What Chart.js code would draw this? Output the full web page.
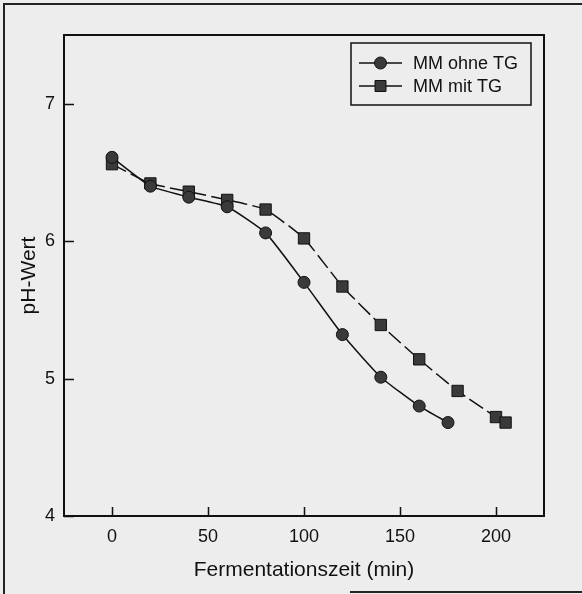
<!DOCTYPE html>
<html>
<head>
<meta charset="utf-8">
<script src="https://cdn.jsdelivr.net/npm/chart.js@4/dist/chart.umd.min.js"></script>
<style>
  html, body { margin: 0; padding: 0; background: #ededed; }
  canvas { display: block; }
</style>
</head>
<body>
<canvas id="phChart" width="582" height="594"></canvas>
<script>
const zeitOhneTG = [0, 20, 40, 60, 80, 100, 120, 140, 160, 175];
const phOhneTG = [6.61, 6.40, 6.32, 6.25, 6.06, 5.70, 5.32, 5.01, 4.80, 4.68];

const zeitMitTG = [0, 20, 40, 60, 80, 100, 120, 140, 160, 180, 200, 205];
const phMitTG = [6.56, 6.42, 6.36, 6.30, 6.23, 6.02, 5.67, 5.39, 5.14, 4.91, 4.72, 4.68];

const xTicks = [0, 50, 100, 150, 200];
const yTicks = [4, 5, 6, 7];

const labels = ['MM ohne TG', 'MM mit TG'];

const FONT = "'Liberation Sans', Arial, Helvetica, sans-serif";
const INK = '#111';

// Rahmen, Achsen mit Innen-Ticks und Legende im Diagramm
const framePlugin = {
  id: 'frame',
  beforeDraw(chart) {
    const ctx = chart.ctx;
    ctx.save();
    ctx.fillStyle = '#ededed';
    ctx.fillRect(0, 0, chart.width, chart.height);
    // Scanrand
    ctx.strokeStyle = '#222';
    ctx.lineWidth = 2;
    ctx.beginPath();
    ctx.moveTo(4, chart.height);
    ctx.lineTo(4, 4);
    ctx.lineTo(chart.width, 4);
    ctx.moveTo(350, 592);
    ctx.lineTo(chart.width, 592);
    ctx.stroke();
    ctx.restore();
  },
  afterDraw(chart) {
    const ctx = chart.ctx;
    const a = chart.chartArea;
    const sx = chart.scales.x;
    const sy = chart.scales.y;
    ctx.save();
    ctx.strokeStyle = INK;
    ctx.lineWidth = 2;
    ctx.strokeRect(a.left, a.top, a.right - a.left, a.bottom - a.top);

    ctx.lineWidth = 1.5;
    ctx.beginPath();
    sx.ticks.forEach(t => {
      const px = Math.round(sx.getPixelForValue(t.value)) + 0.5;
      ctx.moveTo(px, a.bottom);
      ctx.lineTo(px, a.bottom - 9);
    });
    sy.ticks.forEach(t => {
      const py = Math.round(sy.getPixelForValue(t.value)) + 0.5;
      ctx.moveTo(a.left, py);
      ctx.lineTo(a.left + 10, py);
    });
    ctx.stroke();

    // Legende
    const box = { l: 351, t: 43, r: 531, b: 105 };
    ctx.fillStyle = '#ededed';
    ctx.fillRect(box.l, box.t, box.r - box.l, box.b - box.t);
    ctx.lineWidth = 1.5;
    ctx.strokeRect(box.l, box.t, box.r - box.l, box.b - box.t);
    const rows = [63, 86];
    chart.data.datasets.forEach((ds, i) => {
      const y = rows[i];
      ctx.strokeStyle = INK;
      ctx.lineWidth = 1.5;
      ctx.setLineDash([]);
      ctx.beginPath();
      ctx.moveTo(359, y);
      ctx.lineTo(402, y);
      ctx.stroke();
      ctx.fillStyle = ds.pointBackgroundColor;
      ctx.lineWidth = 1;
      ctx.beginPath();
      if (ds.pointStyle === 'rect') {
        ctx.rect(380.5 - 5.5, y - 5.5, 11, 11);
      } else {
        ctx.arc(380.5, y, 6, 0, Math.PI * 2);
      }
      ctx.fill();
      ctx.stroke();
      ctx.fillStyle = INK;
      ctx.font = '18px ' + FONT;
      ctx.textBaseline = 'middle';
      ctx.textAlign = 'left';
      ctx.fillText(ds.label, 413, y + 1);
    });
    ctx.restore();
  }
};

new Chart(document.getElementById('phChart'), {
  type: 'line',
  data: {
    datasets: [
      {
        label: labels[0],
        data: zeitOhneTG.map((t, i) => ({ x: t, y: phOhneTG[i] })),
        borderColor: INK,
        borderWidth: 1.5,
        pointStyle: 'circle',
        pointRadius: 6,
        pointBackgroundColor: '#3a3a3a',
        pointBorderColor: INK,
        pointBorderWidth: 1,
        tension: 0.15,
        fill: false
      },
      {
        label: labels[1],
        data: zeitMitTG.map((t, i) => ({ x: t, y: phMitTG[i] })),
        borderColor: INK,
        borderWidth: 1.5,
        borderDash: [16, 5],
        pointStyle: 'rect',
        pointRadius: 8,
        pointBackgroundColor: '#3a3a3a',
        pointBorderColor: INK,
        pointBorderWidth: 1,
        tension: 0.15,
        fill: false
      }
    ]
  },
  options: {
    responsive: false,
    devicePixelRatio: 1,
    animation: false,
    layout: { padding: { left: 0, top: 35, right: 38, bottom: 0 } },
    plugins: {
      legend: { display: false },
      tooltip: { enabled: false }
    },
    scales: {
      x: {
        type: 'linear',
        min: -25,
        max: 225,
        afterBuildTicks: s => { s.ticks = xTicks.map(v => ({ value: v })); },
        afterFit: s => { s.height = 78; },
        grid: { display: false, drawTicks: false },
        border: { display: false },
        ticks: { color: INK, font: { family: FONT, size: 18 }, padding: 10, maxRotation: 0 },
        title: {
          display: true,
          text: 'Fermentationszeit (min)',
          color: INK,
          font: { family: FONT, size: 21 },
          padding: { top: 0, bottom: 11 }
        }
      },
      y: {
        min: 4,
        max: 7.5,
        afterBuildTicks: s => { s.ticks = yTicks.map(v => ({ value: v })); },
        afterFit: s => { s.width = 64; },
        grid: { display: false, drawTicks: false },
        border: { display: false },
        ticks: { color: INK, font: { family: FONT, size: 18 }, padding: 9 },
        title: {
          display: true,
          text: 'pH-Wert',
          color: INK,
          font: { family: FONT, size: 21 },
          padding: { top: 17, bottom: 0 }
        }
      }
    }
  },
  plugins: [framePlugin]
});
</script>
</body>
</html>
